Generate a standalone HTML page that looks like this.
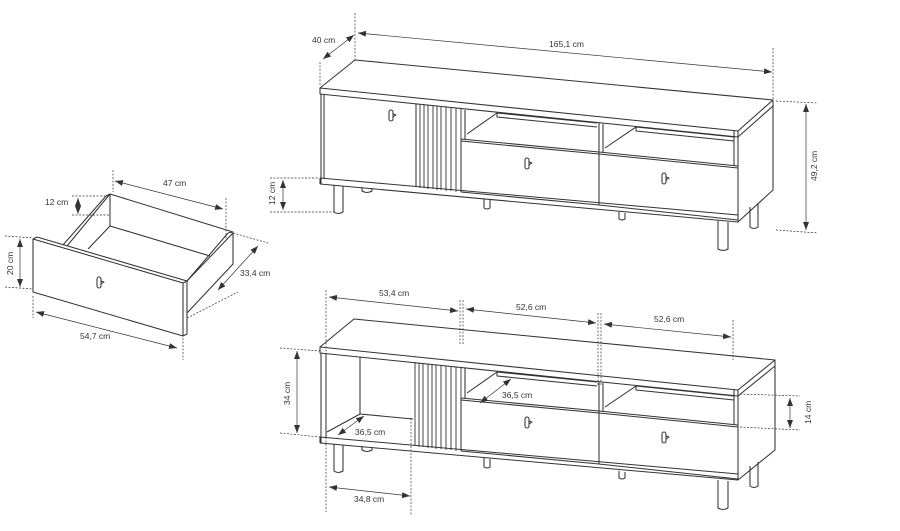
<!DOCTYPE html>
<html><head><meta charset="utf-8"><style>
html,body{margin:0;padding:0;background:#fff;}
svg{display:block;}
text{font-family:"Liberation Sans",sans-serif;font-size:8.5px;fill:#333;}
</style></head><body>
<svg width="900" height="531" viewBox="0 0 900 531" xmlns="http://www.w3.org/2000/svg">
<defs>
<marker id="a" markerWidth="8" markerHeight="6" refX="8" refY="3" orient="auto-start-reverse" markerUnits="userSpaceOnUse"><path d="M0,0 L8,3 L0,6 z" fill="#333"/></marker>
</defs>
<g stroke="#333" stroke-width="1.05" fill="none" stroke-linejoin="round">

<!-- ============ TOP CABINET ============ -->
<path d="M320,88 L355,60 L773,100 L738,131 Z" fill="#fff"/>
<path d="M320,88 L320,94 L738,137 L738,131"/>
<path d="M738,137 L773,106 L773,100"/>
<path d="M738,137 L738,222 L773,190 L773,106"/>
<path d="M321,94 L321,184"/>
<path d="M324,95 L324,178"/>
<path d="M416,104 L416,187"/>
<g stroke-width="0.9">
<path d="M420,104 L420,188 M424,105 L424,188 M428,105 L428,189 M433,106 L433,189 M437,106 L437,190 M441,107 L441,190 M446,107 L446,191 M451,108 L451,191 M456,108 L456,192 M461,109 L461,192"/>
</g>
<path d="M465,110 L465,139"/>
<path d="M599,123 L599,205"/>
<path d="M603,124 L603,152"/>
<path d="M734,131 L734,166"/>
<path d="M467,134 L497,113 L597,123"/>
<path d="M497,113 L497,117 L597,127"/>
<path d="M605,148 L636,127 L734,137"/>
<path d="M636,127 L636,131 L734,141"/>
<path d="M461,139 L599,152 L738,166"/>
<path d="M461,141 L599,154 L738,168"/>
<path d="M461,139 L461,192"/>
<path d="M461,192 L599,205 L738,220"/>
<path d="M320,178 L738,215"/>
<path d="M320,184 L738,222"/>
<path d="M320,178 L320,184"/>
<rect x="389" y="110" width="4" height="11" rx="2"/>
<path d="M393,114 L396,115 L393,117"/>
<rect x="525" y="158" width="4" height="11" rx="2"/>
<path d="M529,162 L532,163 L529,165"/>
<rect x="662" y="173" width="4" height="11" rx="2"/>
<path d="M666,177 L669,178 L666,180"/>
<path d="M334,185 L334,212 Q338,215 343,212 L343,186"/>
<path d="M362,187 L362,191 Q367,194 372,191 L372,188"/>
<path d="M484,199 L484,208 Q487,210 490,208 L490,200"/>
<path d="M619,212 L619,219 Q622,221 625,219 L625,213"/>
<path d="M718,221 L718,249 Q723,252 728,249 L728,222"/>
<path d="M750,207 L750,227 Q754,230 758,227 L758,203"/>

<!-- ============ BOTTOM CABINET ============ -->
<path d="M320,347 L354,319 L775,360 L738,390 Z" fill="#fff"/>
<path d="M320,347 L320,353 L738,396 L738,390"/>
<path d="M738,396 L775,366 L775,360"/>
<path d="M738,396 L738,480 L775,450 L775,366"/>
<path d="M321,353 L321,443"/>
<path d="M326,354 L326,437"/>
<path d="M360,357 L360,414 L413,419"/>
<path d="M327,432 L360,414"/>
<g stroke-width="0.9">
<path d="M415,362 L415,446 M419,363 L419,447 M423,363 L423,447 M428,364 L428,448 M432,364 L432,448 M436,365 L436,449 M441,365 L441,449 M446,366 L446,450 M451,366 L451,450 M456,367 L456,451 M461,367 L461,451"/>
</g>
<path d="M465,368 L465,398"/>
<path d="M599,382 L599,464"/>
<path d="M603,383 L603,411"/>
<path d="M734,390 L734,425"/>
<path d="M467,393 L497,372 L597,382"/>
<path d="M497,372 L497,376 L597,386"/>
<path d="M605,407 L636,386 L734,396"/>
<path d="M636,386 L636,390 L734,400"/>
<path d="M461,398 L599,411 L738,425"/>
<path d="M461,400 L599,413 L738,427"/>
<path d="M461,398 L461,451"/>
<path d="M461,451 L599,464 L738,479"/>
<path d="M320,437 L738,474"/>
<path d="M320,443 L738,480"/>
<path d="M320,437 L320,443"/>
<rect x="525" y="417" width="4" height="11" rx="2"/>
<path d="M529,421 L532,422 L529,424"/>
<rect x="662" y="432" width="4" height="11" rx="2"/>
<path d="M666,436 L669,437 L666,439"/>
<path d="M334,444 L334,471 Q338,474 343,471 L343,445"/>
<path d="M362,446 L362,450 Q367,453 372,450 L372,447"/>
<path d="M484,458 L484,467 Q487,469 490,467 L490,459"/>
<path d="M619,471 L619,478 Q622,480 625,478 L625,472"/>
<path d="M718,480 L718,508 Q723,511 728,508 L728,481"/>
<path d="M750,466 L750,486 Q754,489 758,486 L758,462"/>

<!-- ============ DRAWER ============ -->
<path d="M33,239 L37,237 L187,281 L183,283 Z" fill="#fff"/>
<path d="M33,239 L33,292 L183,336 L183,283"/>
<path d="M183,336 L187,334 L187,281"/>
<path d="M187,281 L233,233 L233,264 L187,313"/>
<path d="M187,281 L228,233"/>
<path d="M228,233 L233,232 L110,194 L106,196"/>
<path d="M110,194 L110,226"/>
<path d="M106,196 L63,245"/>
<path d="M110,194 L67,246"/>
<path d="M110,226 L210,256"/>
<path d="M88,249 L110,226"/>
<rect x="97" y="277" width="4" height="11" rx="2"/>
<path d="M101,281 L104,282 L101,284"/>
</g>

<!-- ============ DIMENSION LINES ============ -->
<g stroke="#333" stroke-width="0.7" fill="none">
<path d="M355,13 L355,60 M773,48 L773,100 M320,62 L320,85" stroke-dasharray="2,1.5"/>
<path d="M358,33 L772,72" marker-start="url(#a)" marker-end="url(#a)"/>
<path d="M323,59 L354,35" marker-start="url(#a)" marker-end="url(#a)"/>
<path d="M776,101 L818,103 M776,230 L818,233 M270,178 L318,178 M270,212 L334,212" stroke-dasharray="2,1.5"/>
<path d="M806,104 L806,230" marker-start="url(#a)" marker-end="url(#a)"/>
<path d="M283,180 L283,210" marker-start="url(#a)" marker-end="url(#a)"/>
<path d="M326,290 L326,512 M460,300 L460,345 M463,300 L463,345 M598,313 L598,385 M601,313 L601,385 M733,320 L733,360 M411,418 L411,515" stroke-dasharray="2,1.5"/>
<path d="M329,297 L458,311" marker-start="url(#a)" marker-end="url(#a)"/>
<path d="M466,309 L596,323" marker-start="url(#a)" marker-end="url(#a)"/>
<path d="M604,324 L731,337" marker-start="url(#a)" marker-end="url(#a)"/>
<path d="M280,348 L320,351 M280,433 L320,437 M740,394 L800,396 M740,427 L800,430" stroke-dasharray="2,1.5"/>
<path d="M297,351 L297,433" marker-start="url(#a)" marker-end="url(#a)"/>
<path d="M790,398 L790,428" marker-start="url(#a)" marker-end="url(#a)"/>
<path d="M338,435 L364,416" marker-start="url(#a)" marker-end="url(#a)"/>
<path d="M480,403 L511,379" marker-start="url(#a)" marker-end="url(#a)"/>
<path d="M329,487 L410,496" marker-start="url(#a)" marker-end="url(#a)"/>
<path d="M113,170 L113,192 M226,198 L226,240 M72,196 L108,196 M72,215 L110,215 M5,236 L33,238 M5,287 L33,289 M233,233 L268,243 M187,318 L238,292 M33,296 L33,318 M183,338 L183,360" stroke-dasharray="2,1.5"/>
<path d="M115,181 L223,209" marker-start="url(#a)" marker-end="url(#a)"/>
<path d="M78,198 L78,214" marker-start="url(#a)" marker-end="url(#a)"/>
<path d="M20,239 L20,287" marker-start="url(#a)" marker-end="url(#a)"/>
<path d="M258,246 L218,290" marker-start="url(#a)" marker-end="url(#a)"/>
<path d="M36,312 L177,348" marker-start="url(#a)" marker-end="url(#a)"/>
</g>

<text x="312" y="43">40 cm</text>
<text x="549" y="47">165,1 cm</text>
<text x="0" y="0" transform="translate(817,181) rotate(-90)">49,2 cm</text>
<text x="0" y="0" transform="translate(275,205) rotate(-90)">12 cm</text>
<text x="379" y="296">53,4 cm</text>
<text x="516" y="310">52,6 cm</text>
<text x="654" y="322">52,6 cm</text>
<text x="0" y="0" transform="translate(290,405) rotate(-90)">34 cm</text>
<text x="0" y="0" transform="translate(811,424) rotate(-90)">14 cm</text>
<text x="355" y="435">36,5 cm</text>
<text x="502" y="398">36,5 cm</text>
<text x="354" y="502">34,8 cm</text>
<text x="163" y="186">47 cm</text>
<text x="45" y="205">12 cm</text>
<text x="0" y="0" transform="translate(13,275) rotate(-90)">20 cm</text>
<text x="240" y="276">33,4 cm</text>
<text x="80" y="339">54,7 cm</text>
</svg>
</body></html>
